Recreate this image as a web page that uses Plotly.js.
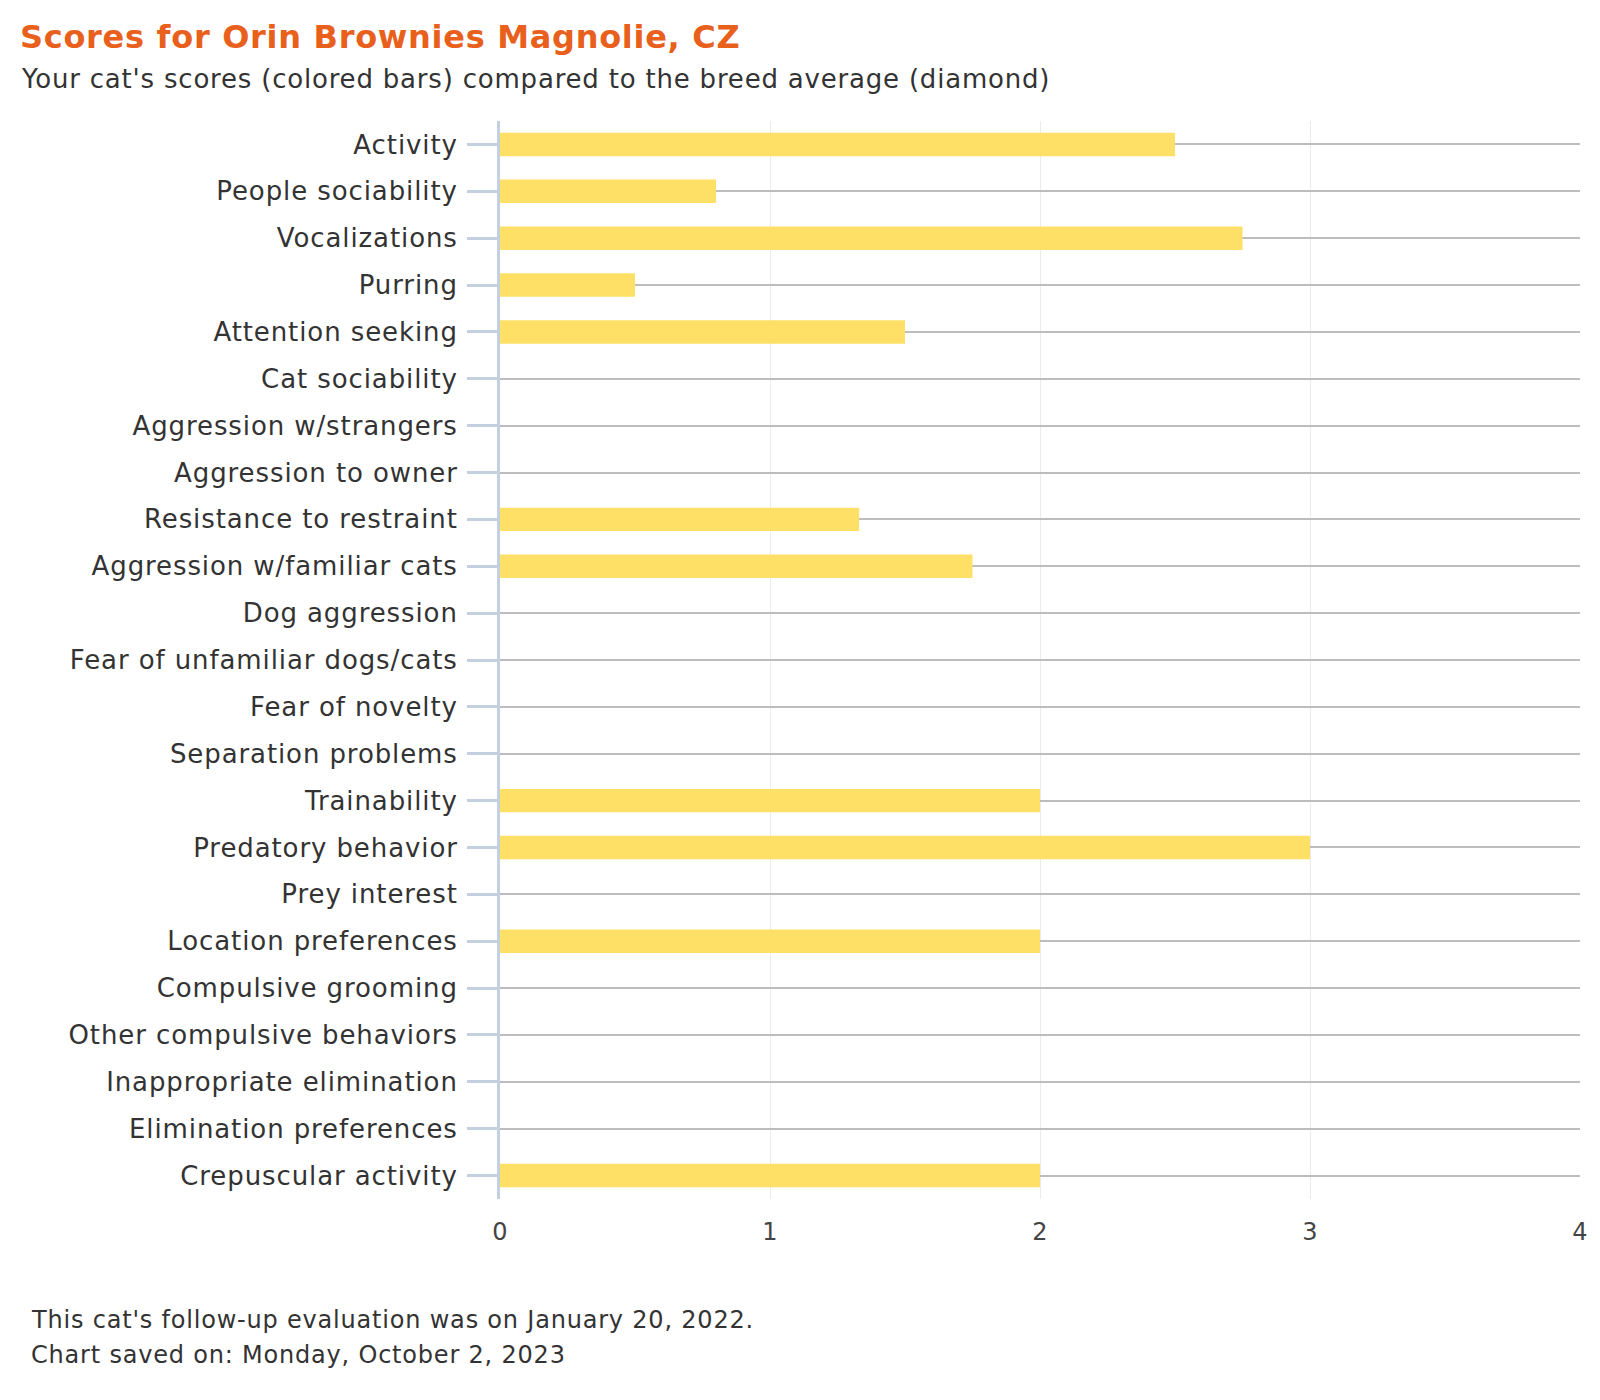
<!DOCTYPE html>
<html>
<head>
<meta charset="utf-8">
<script src="https://cdn.plot.ly/plotly-3.0.1.min.js"></script>
<style>
html,body{margin:0;padding:0;background:#fff;}
#chart{width:1600px;height:1400px;}
#chart .ytick text{letter-spacing:0.9px;}
#chart .annotation-text{letter-spacing:0.8px;}
#chart .gtitle{letter-spacing:0.7px;}
</style>
</head>
<body>
<div id="chart"></div>
<script>
const categories = [
  "Activity","People sociability","Vocalizations","Purring","Attention seeking",
  "Cat sociability","Aggression w/strangers","Aggression to owner","Resistance to restraint",
  "Aggression w/familiar cats","Dog aggression","Fear of unfamiliar dogs/cats","Fear of novelty",
  "Separation problems","Trainability","Predatory behavior","Prey interest","Location preferences",
  "Compulsive grooming","Other compulsive behaviors","Inappropriate elimination",
  "Elimination preferences","Crepuscular activity"
];
const catScores = [
  2.5, 0.8, 2.75, 0.5, 1.5,
  null, null, null, 1.33,
  1.75, null, null, null,
  null, 2, 3, null, 2,
  null, null, null,
  null, 2
];
const xTicks = [0, 1, 2, 3, 4];
const titleText = "Scores for Orin Brownies Magnolie, CZ";
const subtitleText = "Your cat's scores (colored bars) compared to the breed average (diamond)";
const footerLines = ["This cat's follow-up evaluation was on January 20, 2022.", "Chart saved on: Monday, October 2, 2023"];

const FONT = "DejaVu Sans, Open Sans, sans-serif";

const trace = {
  type: 'bar',
  orientation: 'h',
  y: categories,
  x: catScores,
  marker: {color: '#FFE066'},
  hoverinfo: 'x+y'
};

const layout = {
  width: 1600, height: 1400,
  paper_bgcolor: '#fff', plot_bgcolor: '#fff',
  margin: {l: 500, r: 20, t: 121, b: 201},
  bargap: 0.5,
  showlegend: false,
  font: {family: FONT, color: '#333'},
  title: {
    text: '<b>' + titleText + '</b>',
    x: 20/1600, xanchor: 'left', xref: 'container',
    y: 1 - 37/1400, yanchor: 'middle', yref: 'container',
    font: {family: FONT, size: 32, color: '#E8601C'}
  },
  xaxis: {
    range: [0, 4],
    tickvals: xTicks,
    showgrid: true, gridcolor: '#ebebeb', gridwidth: 1,
    zeroline: false, showline: false,
    ticks: '',
    ticklabelstandoff: 16,
    tickfont: {family: FONT, size: 24, color: '#444'},
    fixedrange: true
  },
  yaxis: {
    type: 'category',
    autorange: false,
    range: [categories.length - 0.5, -0.5],
    showgrid: true, gridcolor: '#bdbdbd', gridwidth: 2,
    showline: true, linecolor: '#c3d0e0', linewidth: 3,
    ticks: 'outside', ticklen: 30, tickwidth: 3, tickcolor: '#c3d0e0',
    ticklabelstandoff: 4,
    tickfont: {family: FONT, size: 26, color: '#333'},
    zeroline: false,
    fixedrange: true
  }
};
layout.annotations = [
  {text: subtitleText, xref: 'paper', yref: 'paper',
   x: (19 - 500) / 1080, xanchor: 'left', align: 'left',
   y: 1 + (121 - 79) / 1078, yanchor: 'middle',
   showarrow: false, font: {family: FONT, size: 26, color: '#333'}},
  {text: footerLines[0], xref: 'paper', yref: 'paper',
   x: (29 - 500) / 1080, xanchor: 'left', align: 'left',
   y: -(1320 - 1199) / 1078, yanchor: 'middle',
   showarrow: false, font: {family: FONT, size: 24, color: '#333'}},
  {text: footerLines[1], xref: 'paper', yref: 'paper',
   x: (29 - 500) / 1080, xanchor: 'left', align: 'left',
   y: -(1355 - 1199) / 1078, yanchor: 'middle',
   showarrow: false, font: {family: FONT, size: 24, color: '#333'}}
];

Plotly.newPlot('chart', [trace], layout, {displayModeBar: false, responsive: false});
</script>
</body>
</html>
